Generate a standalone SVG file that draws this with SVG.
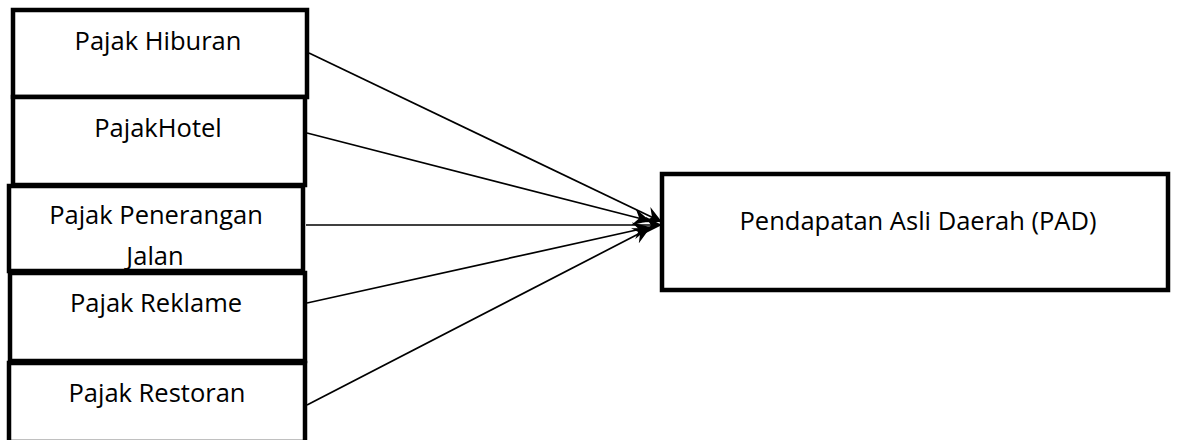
<svg xmlns="http://www.w3.org/2000/svg" width="1178" height="440" viewBox="0 0 1178 440">
<style>
.box{fill:#fff;stroke:#000;stroke-width:4.5}
.lbl{font-family:"Open Sans","Liberation Sans",sans-serif;font-size:25.5px;fill:#000;text-anchor:middle}
.edge{stroke:#000;stroke-width:1.7;fill:none}
</style>
<defs>
<marker id="ah" viewBox="0 0 10 10" refX="10" refY="5" markerUnits="userSpaceOnUse" markerWidth="17" markerHeight="17" orient="auto">
<path d="M0,0 L10,5 L0,10 L3.5,5 Z" fill="#000"/>
</marker>
</defs>
<rect width="1178" height="440" fill="#fff"/>
<g id="connectors">
<line class="edge" x1="309" y1="53" x2="662" y2="222" marker-end="url(#ah)"/>
<line class="edge" x1="307" y1="133" x2="650" y2="221" marker-end="url(#ah)"/>
<line class="edge" x1="306" y1="225" x2="662" y2="225" marker-end="url(#ah)"/>
<line class="edge" x1="307" y1="303" x2="650" y2="227" marker-end="url(#ah)"/>
<line class="edge" x1="307" y1="405" x2="650" y2="228" marker-end="url(#ah)"/>
</g>
<g id="n-hiburan"><rect class="box" x="13" y="10" width="294" height="87"/><text class="lbl" x="158" y="50">Pajak Hiburan</text></g>
<g id="n-hotel"><rect class="box" x="13" y="97" width="292" height="88"/><text class="lbl" x="158" y="137">PajakHotel</text></g>
<g id="n-penerangan"><rect class="box" x="9" y="186" width="294" height="85"/><text class="lbl" x="156" y="224">Pajak Penerangan</text></g>
<g id="n-reklame"><rect class="box" x="10" y="273" width="295" height="88"/><text class="lbl" x="156" y="312">Pajak Reklame</text></g>
<g id="n-restoran"><rect class="box" x="9" y="363" width="296" height="79"/><text class="lbl" x="157" y="402">Pajak Restoran</text></g>
<g id="n-penerangan-line2"><text class="lbl" x="155" y="265">Jalan</text></g>
<g id="n-pad"><rect class="box" x="662" y="174" width="506" height="116"/><text class="lbl" x="918" y="230">Pendapatan Asli Daerah (PAD)</text></g>
</svg>
